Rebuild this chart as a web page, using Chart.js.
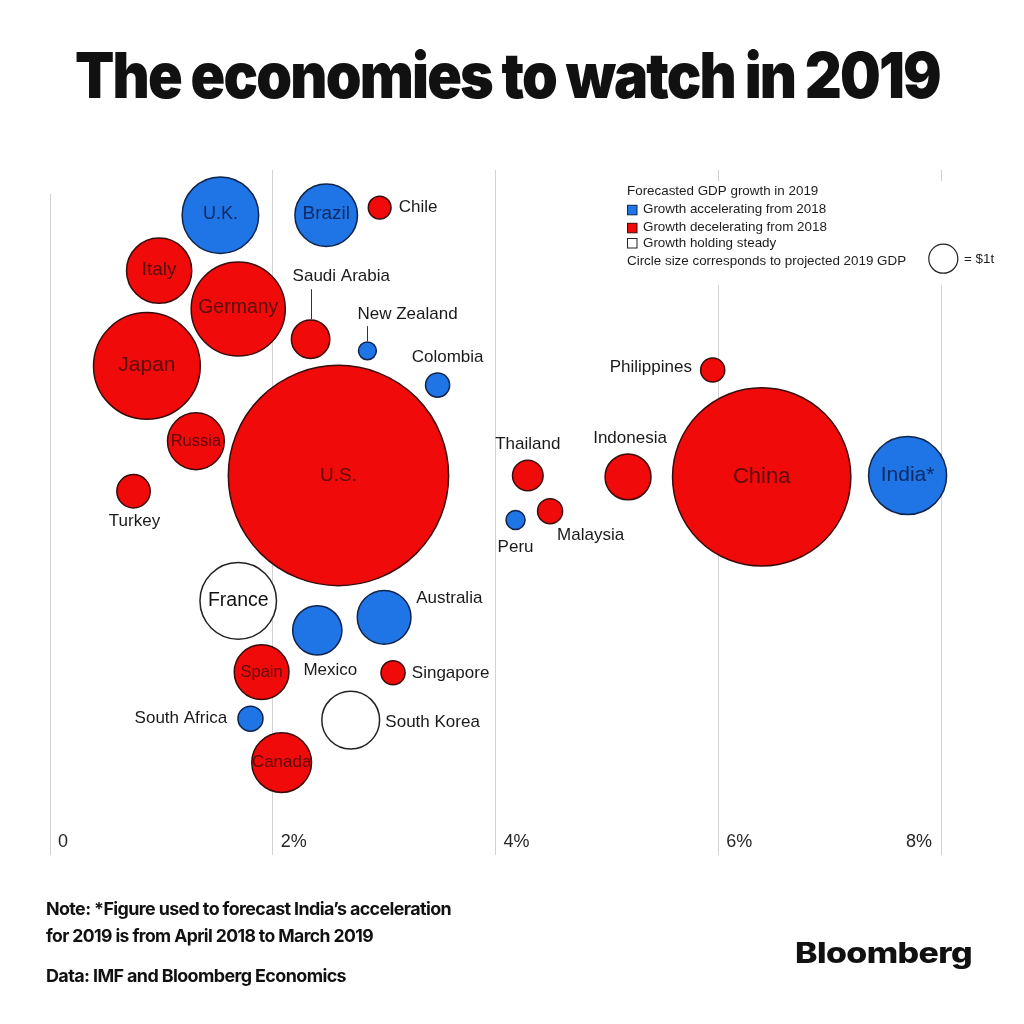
<!DOCTYPE html>
<html><head><meta charset="utf-8">
<script src="https://cdn.jsdelivr.net/npm/chart.js@4.4.1/dist/chart.umd.min.js"></script>
<style>
html,body{margin:0;padding:0;background:#fff;}
#wrap{position:relative;width:1024px;height:1024px;overflow:hidden;background:#fff;}
#c{position:absolute;left:0;top:0;}
.t{position:absolute;white-space:nowrap;transform-origin:0 0;color:#111;line-height:1;margin:0;}
#title{font-family:Inter,"Liberation Sans",sans-serif;font-weight:900;font-size:63px;letter-spacing:-2px;left:75px;top:43.6px;}
.foot{font-family:Inter,"Liberation Sans",sans-serif;font-weight:700;font-size:17.5px;letter-spacing:-0.6px;left:46px;}
#logo{font-family:Inter,"Liberation Sans",sans-serif;font-weight:800;font-size:28px;letter-spacing:-0.5px;left:795px;top:938.8px;}
</style></head>
<body><div id="wrap">
<canvas id="c" width="1024" height="1024"></canvas>
<div class="t" id="title" data-w="865">The economies to watch in 2019</div>
<div class="t foot" style="top:899.9px" data-w="405">Note: *Figure used to forecast India’s acceleration</div>
<div class="t foot" style="top:926.6px" data-w="327">for 2019 is from April 2018 to March 2019</div>
<div class="t foot" style="top:966.6px" data-w="300">Data: IMF and Bloomberg Economics</div>
<div class="t" id="logo" data-w="177">Bloomberg</div>
</div>
<script>
// ---- data ----
const countries = ['U.K.','Brazil','Chile','Italy','Germany','Japan','Saudi Arabia','New Zealand','Colombia','Russia','Turkey','U.S.','France','Australia','Mexico','Spain','Singapore','South Africa','South Korea','Canada','Philippines','Thailand','Indonesia','Malaysia','Peru','China','India*'];
// forecast GDP growth 2019 (%)
const growth2019 = [1.53,2.48,2.96,0.98,1.69,0.87,2.34,2.85,3.48,1.31,0.75,2.59,1.69,3.00,2.40,1.90,3.08,1.80,2.70,2.08,5.95,4.29,5.19,4.49,4.18,6.39,7.70];
// vertical swarm position (arbitrary units, 0 bottom – 100 top)
const swarmOffset = [93.4,93.4,94.5,85.3,79.7,71.4,75.3,73.6,68.6,60.4,53.1,55.4,37.1,34.7,32.8,26.7,26.6,19.9,19.7,13.5,70.8,55.4,55.2,50.2,48.9,55.2,55.4];
// projected 2019 GDP ($ trillion)
const gdp2019 = [2.6,1.75,0.25,1.9,3.9,5.0,0.68,0.16,0.28,1.45,0.52,21.0,2.6,1.3,1.1,1.35,0.28,0.30,1.5,1.6,0.28,0.44,0.96,0.30,0.18,13.8,2.7];
// growth trend vs 2018
const trend = ['acc','acc','dec','dec','dec','dec','dec','acc','acc','dec','dec','dec','steady','acc','acc','dec','dec','acc','steady','dec','dec','dec','dec','dec','acc','dec','acc'];
const trendNames = {acc:'Growth accelerating from 2018', dec:'Growth decelerating from 2018', steady:'Growth holding steady'};
const tickValues = [0,2,4,6,8];
const tickLabels = ['0','2%','4%','6%','8%'];
const legendTitle = 'Forecasted GDP growth in 2019';
const sizeNote = 'Circle size corresponds to projected 2019 GDP';
const sizeUnit = '= $1t';

// ---- styles ----
const fills = {acc:'#1f75e6', dec:'#f10a0a', steady:'#ffffff'};
const strokes = {acc:'#10244a', dec:'#3a0b0b', steady:'#222222'};
const inkIn = {acc:'#0f2a66', dec:'#5c0b0b', steady:'#111111'};
const RSCALE = 24.2; // px per sqrt($t)

const labelLayout = {
 'U.K.':{at:'in',size:18,dy:-1}, 'Brazil':{at:'in',size:19,dy:-1}, 'Chile':{at:'right',dx:7},
 'Italy':{at:'in',size:19,dy:-1}, 'Germany':{at:'in',size:19.5,dy:-1}, 'Japan':{at:'in',size:21,dy:-1},
 'Saudi Arabia':{at:'above',dx:-18,dy:43,align:'left',line:13}, 'New Zealand':{at:'above',dx:-10,dy:27,align:'left',line:12},
 'Colombia':{at:'above',dx:10,dy:15}, 'Russia':{at:'in',size:16.5}, 'Turkey':{at:'below',dx:1,dy:12.5},
 'U.S.':{at:'in',size:19}, 'France':{at:'in',size:19.5}, 'Australia':{at:'right',dx:4.5,dy:-19},
 'Mexico':{at:'below',dx:13,dy:15}, 'Spain':{at:'in',size:16.5}, 'Singapore':{at:'right',dx:6,dy:1},
 'South Africa':{at:'left',dx:10,dy:0}, 'South Korea':{at:'right',dx:5,dy:2}, 'Canada':{at:'in',size:17},
 'Philippines':{at:'left',dx:8,dy:-3}, 'Thailand':{at:'above',dx:0,dy:15}, 'Indonesia':{at:'above',dx:2,dy:15},
 'Malaysia':{at:'below',dx:7,dy:10.7,align:'left'}, 'Peru':{at:'below',dx:0,dy:16.7},
 'China':{at:'in',size:22}, 'India*':{at:'in',size:21}
};

const order = ['dec','acc','steady'];
const datasets = order.map(k => {
  const idx = countries.map((c,i)=>i).filter(i => trend[i] === k);
  return {
    label: trendNames[k], trendKey: k,
    names: idx.map(i => countries[i]),
    data: idx.map(i => ({x: growth2019[i], y: swarmOffset[i], r: RSCALE*Math.sqrt(gdp2019[i]) - 0.75})),
    backgroundColor: fills[k], borderColor: strokes[k], borderWidth: 1.5, clip: false
  };
});

const FONT = '"Liberation Sans", Arial, sans-serif';

const decorations = {
  id: 'decorations',
  beforeDatasetsDraw(chart) {
    const ctx = chart.ctx;
    ctx.save();
    ctx.fillStyle = '#fff';
    // zero line starts a little lower than the others
    ctx.fillRect(chart.scales.x.getPixelForValue(0) - 3, chart.chartArea.top - 2, 6, 26);
    // white panel behind legend (hides gridlines)
    ctx.fillRect(616, 181, 400, 104);
    ctx.fillStyle = '#1c1c1c';
    ctx.font = '13.4px ' + FONT;
    ctx.textBaseline = 'middle';
    ctx.textAlign = 'left';
    ctx.fillText(legendTitle, 627, 191.5);
    const rows = [['acc',209.8],['dec',227.8],['steady',243]];
    rows.forEach(([k,y]) => {
      ctx.fillStyle = fills[k];
      ctx.fillRect(627.5, y-4.5, 9.5, 9.5);
      ctx.strokeStyle = k==='steady' ? '#222' : strokes[k];
      ctx.lineWidth = 1;
      ctx.strokeRect(627.5, y-4.5, 9.5, 9.5);
      ctx.fillStyle = '#1c1c1c';
      ctx.fillText(trendNames[k], 643, y);
    });
    ctx.fillText(sizeNote, 627, 261.5);
    ctx.beginPath();
    ctx.arc(943.3, 258.7, 14.5, 0, Math.PI*2);
    ctx.fillStyle = '#fff'; ctx.fill();
    ctx.strokeStyle = '#222'; ctx.lineWidth = 1.2; ctx.stroke();
    ctx.fillStyle = '#1c1c1c';
    ctx.fillText(sizeUnit, 964, 259);
    ctx.restore();
  },
  afterDatasetsDraw(chart) {
    const ctx = chart.ctx;
    ctx.save();
    chart.data.datasets.forEach((ds, di) => {
      const meta = chart.getDatasetMeta(di);
      meta.data.forEach((el, i) => {
        const name = ds.names[i];
        const L = labelLayout[name] || {at:'in'};
        const r = el.options.radius + 0.75;
        const cx = el.x, cy = el.y;
        let x = cx, y = cy, align = 'center';
        const dx = L.dx || 0, dy = L.dy || 0;
        if (L.at === 'in') { x = cx + dx; y = cy + dy; }
        else if (L.at === 'right') { x = cx + r + dx; y = cy + dy; align = 'left'; }
        else if (L.at === 'left') { x = cx - r - dx; y = cy + dy; align = 'right'; }
        else if (L.at === 'above') { x = cx + dx; y = cy - r - dy; align = L.align || 'center'; }
        else if (L.at === 'below') { x = cx + dx; y = cy + r + dy; align = L.align || 'center'; }
        ctx.textAlign = align;
        ctx.textBaseline = 'middle';
        if (L.at === 'in') {
          ctx.font = (L.size || 18) + 'px ' + FONT;
          ctx.fillStyle = inkIn[ds.trendKey];
        } else {
          ctx.font = '17px ' + FONT;
          ctx.fillStyle = '#1a1a1a';
        }
        ctx.fillText(name, x, y);
        if (L.line) {
          ctx.beginPath();
          ctx.moveTo(Math.round(cx)+0.5, y + L.line);
          ctx.lineTo(Math.round(cx)+0.5, cy - r);
          ctx.strokeStyle = '#333'; ctx.lineWidth = 1; ctx.stroke();
        }
      });
    });
    ctx.restore();
  },
  afterDraw(chart) {
    const ctx = chart.ctx, xs = chart.scales.x;
    ctx.save();
    ctx.font = '18px ' + FONT;
    ctx.fillStyle = '#262626';
    ctx.textBaseline = 'middle';
    tickValues.forEach((v, i) => {
      const px = xs.getPixelForValue(v);
      if (i === tickValues.length - 1) { ctx.textAlign = 'right'; ctx.fillText(tickLabels[i], px - 9, 842); }
      else { ctx.textAlign = 'left'; ctx.fillText(tickLabels[i], px + 8, 842); }
    });
    ctx.restore();
  }
};

new Chart(document.getElementById('c'), {
  type: 'bubble',
  data: { datasets },
  options: {
    responsive: false, animation: false, events: [],
    layout: { autoPadding: false, padding: { left: 50, right: 83, top: 170, bottom: 169 } },
    plugins: { legend: { display: false }, tooltip: { enabled: false }, title: { display: false } },
    scales: {
      x: { type: 'linear', min: 0, max: 8, ticks: { display: false, stepSize: 2 },
           grid: { color: '#d2d2d2', lineWidth: 1, drawTicks: false }, border: { display: false } },
      y: { type: 'linear', display: false, min: 0, max: 100 }
    }
  },
  plugins: [decorations]
});

function fitTexts() {
  document.querySelectorAll('.t').forEach(el => {
    el.style.transform = 'none';
    const w = el.getBoundingClientRect().width;
    const target = parseFloat(el.dataset.w);
    el.style.transform = 'scaleX(' + (target / w) + ')';
  });
}
fitTexts();
if (document.fonts && document.fonts.ready) document.fonts.ready.then(fitTexts);
</script>
</body></html>
